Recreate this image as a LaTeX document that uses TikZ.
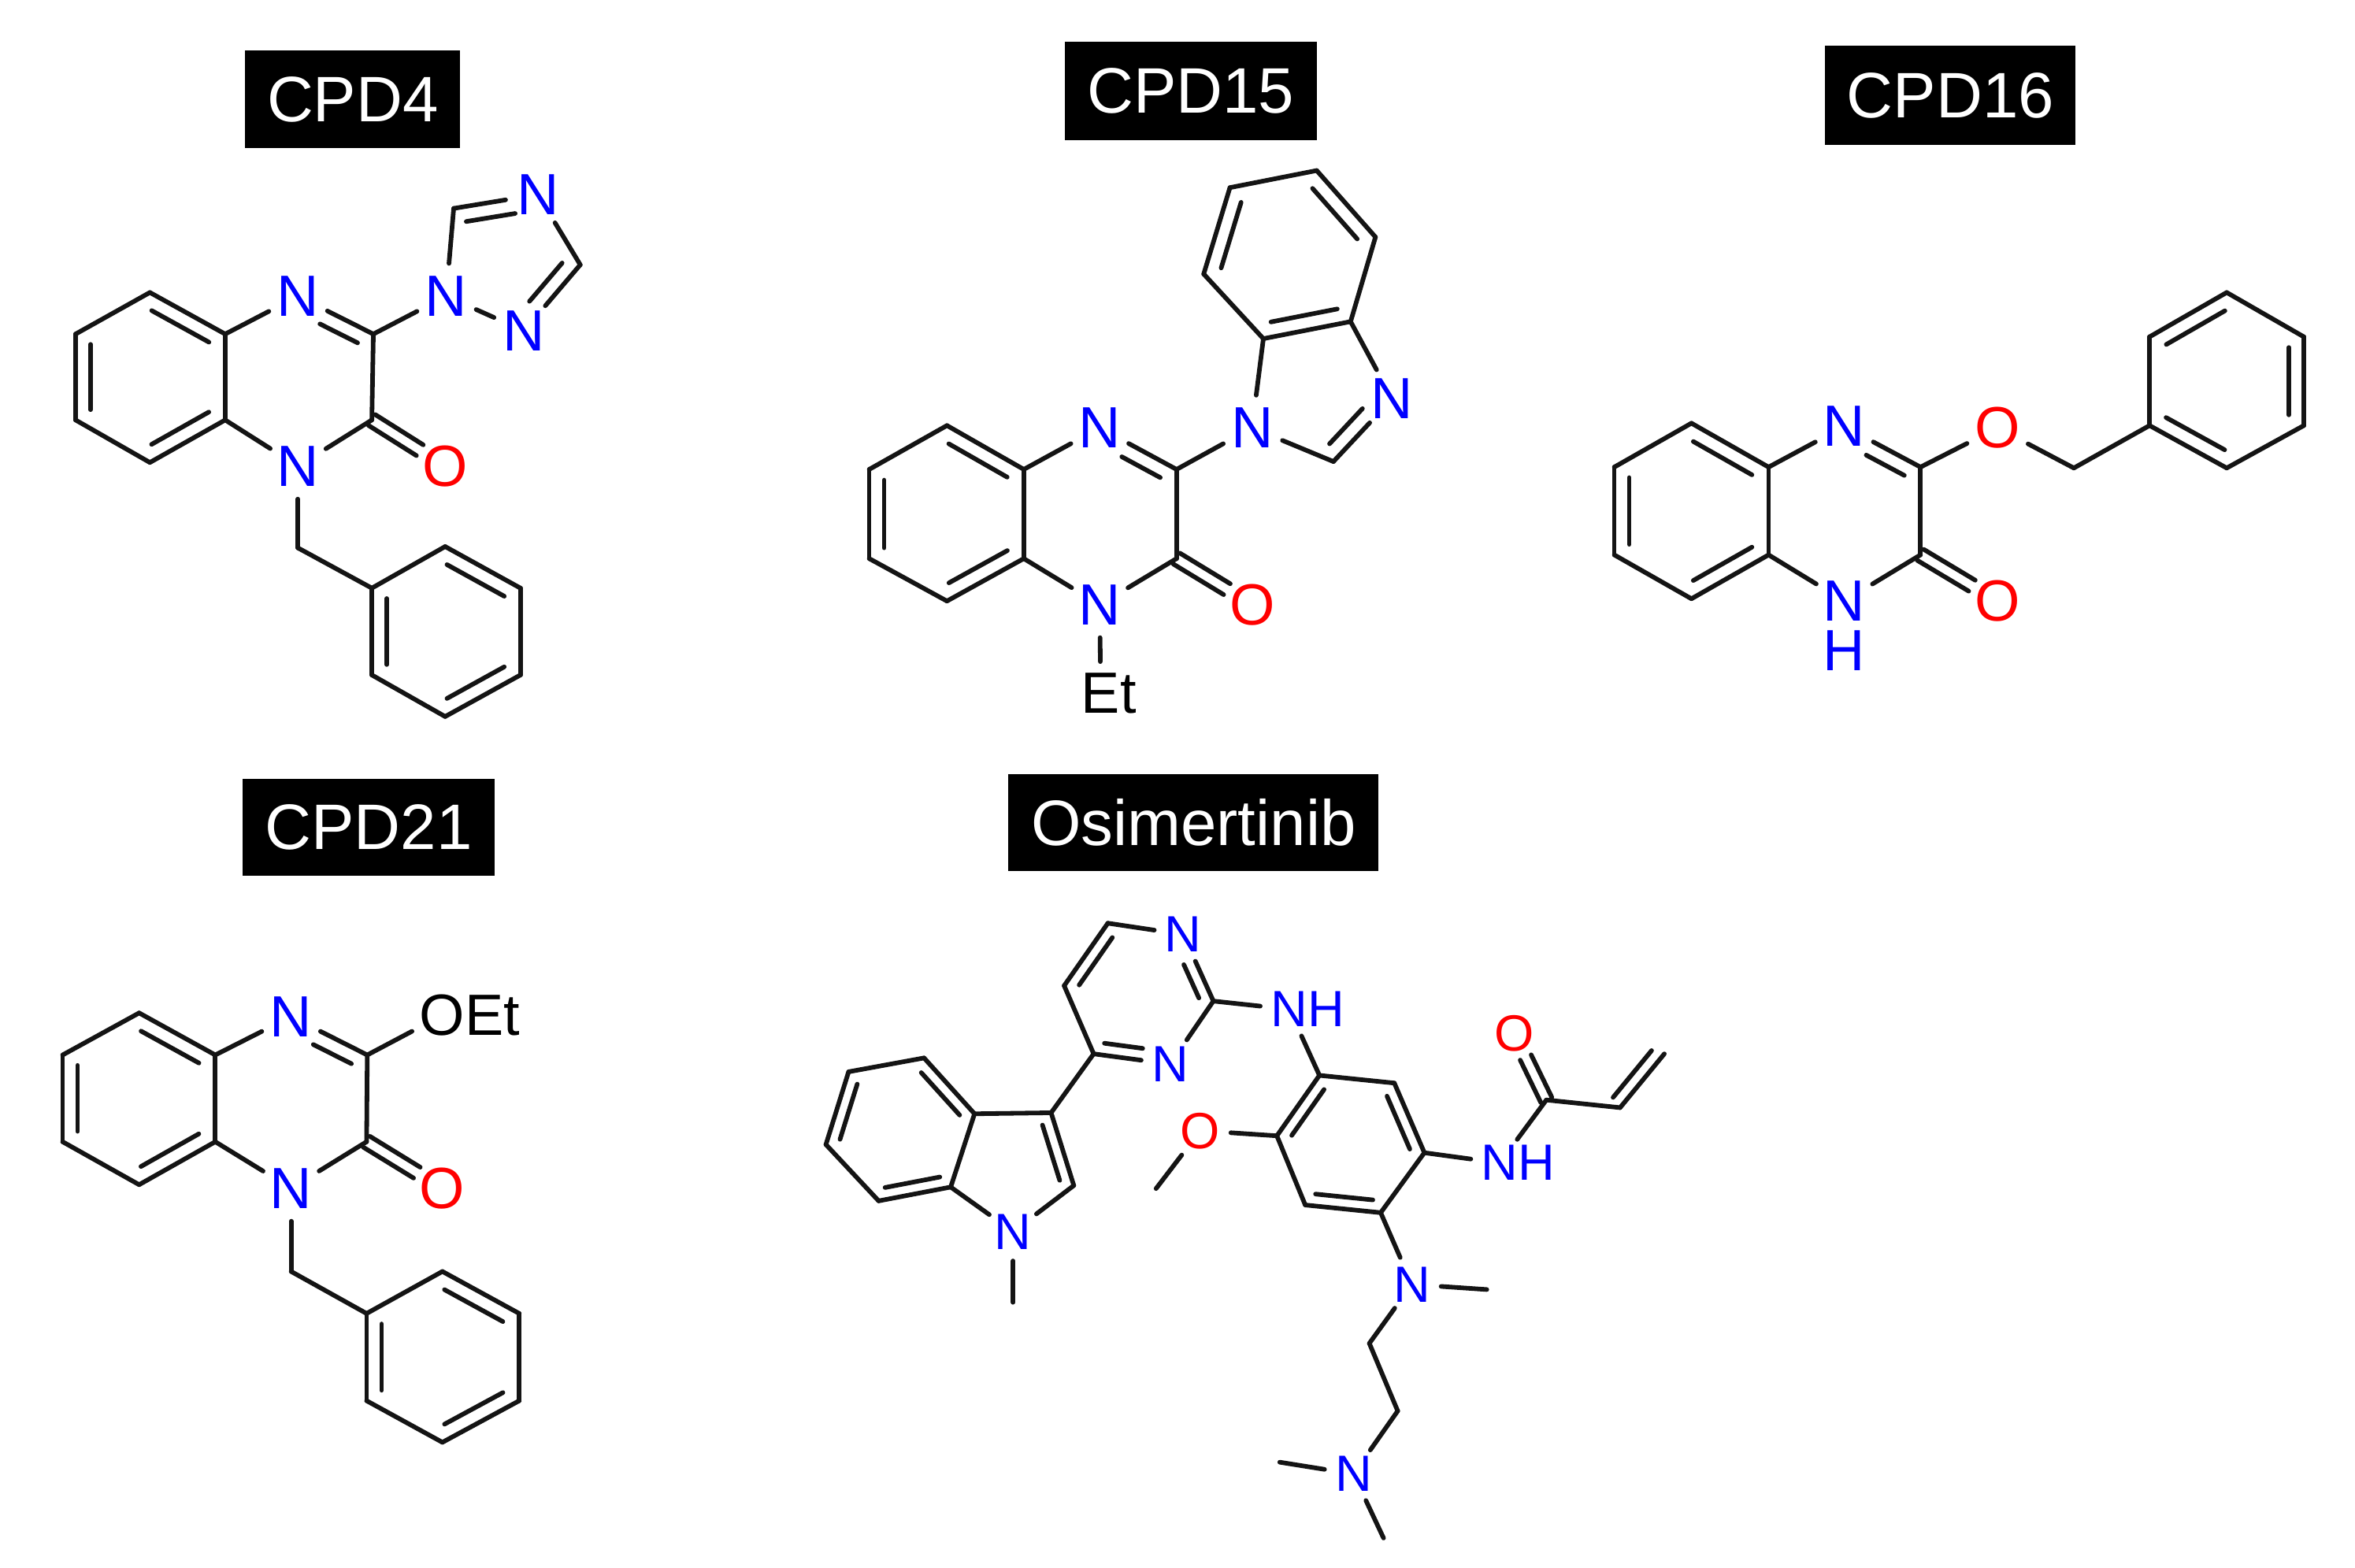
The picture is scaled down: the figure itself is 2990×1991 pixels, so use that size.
\documentclass[tikz,border=0pt]{standalone}
\usepackage{fontspec}
\setmainfont{Liberation Sans}
\usetikzlibrary{calc}
\definecolor{hetN}{RGB}{0,0,255}
\definecolor{hetO}{RGB}{255,0,0}
\definecolor{bondcol}{RGB}{20,20,20}
\tikzset{
  bond/.style={draw=bondcol,line width=0.058cm,line cap=round,line join=round},
  tag/.style={fill=black,text=white,inner sep=0pt,outer sep=0pt,font=\fontsize{23.2}{26}\selectfont},
  atomN/.style={circle,inner sep=1pt,outer sep=0pt,text=hetN,font=\atomsz},
  atomO/.style={circle,inner sep=1pt,outer sep=0pt,text=hetO,font=\atomsz},
  atomK/.style={circle,inner sep=1pt,outer sep=0pt,text=black,font=\atomsz}
}
\newcommand\atomsz{\fontsize{21}{22}\selectfont}
\newcommand\bondoff{-5.4pt}
% inner line of a double bond: a, b, trim at a, trim at b, signed offset
\newcommand\inbond[5]{\draw[bond] ($(#1)!#3!(#2)!#5!90:(#2)$) -- ($(#2)!#4!(#1)!#5!-90:(#1)$);}
% ring double bond, a to b clockwise in the picture
\newcommand\ringd[2]{\draw[bond] (#1) -- (#2); \inbond{#1}{#2}{.12}{.12}{\bondoff}}
% ring double bond starting at a labelled atom
\newcommand\ringa[2]{\draw[bond] (#1) -- (#2); \inbond{#1}{#2}{.38}{.12}{\bondoff}}
% ring double bond ending at a labelled atom
\newcommand\ringb[2]{\draw[bond] (#1) -- (#2); \inbond{#1}{#2}{.12}{.3}{\bondoff}}
% C=O: two lines either side of the axis
\newcommand\cdo[4]{\draw[bond,shorten >=#4] ($(#1)!#3!90:(#2)$) -- ($(#2)!#3!-90:(#1)$);
  \draw[bond,shorten >=#4] ($(#1)!#3!-90:(#2)$) -- ($(#2)!#3!90:(#1)$);}
% shared quinoxalinone skeleton
\newcommand\quinox{%
  \ringd{a1}{a2} \ringd{a3}{a4} \ringd{a5}{a6}
  \foreach \p/\q in {a2/a3,a4/a5,a6/a1,a2/n1,c2/c3,c3/n4,n4/a3} \draw[bond] (\p) -- (\q);
  \ringa{n1}{c2}
  \cdo{c3}{o1}{2.3pt}{.38cm}}
\begin{document}
\begin{tikzpicture}[x=0.01cm,y=-0.01cm]
\useasboundingbox (0,0) rectangle (2990,1991);

% ---------- CPD4 ----------
\begin{scope}[xshift=0.5cm,yshift=-0.3cm,x=0.01cm/1.568,y=-0.01cm/1.704,name prefix=A-]
  \node[tag,minimum width=2.73cm,minimum height=1.244cm] (title) at (624,164) {CPD4};
  \foreach \n/\x/\y in {a1/220/582,a2/370/672,a3/370/858,a4/220/950,a5/72/858,a6/72/672,
    c2/665/672,c3/662/858,t2/825/400,t4/1077/522,ch/515/1135,
    p0/662/1222,p1/808/1132,p2/958/1222,p3/958/1410,p4/808/1500,p5/662/1410}
    \coordinate (\n) at (\x,\y);
  \node[atomN] (n1) at (515,590) {N};
  \node[atomN] (n4) at (515,958) {N};
  \node[atomO] (o1) at (808,958) {O};
  \node[atomN] (t1) at (810,590) {N};
  \node[atomN] (t3) at (993,370) {N};
  \node[atomN] (t5) at (965,665) {N};
  \quinox
  \foreach \p/\q in {c2/t1,t1/t2,t3/t4,t5/t1,n4/ch,ch/p0,p0/p1,p2/p3,p4/p5} \draw[bond] (\p) -- (\q);
  \ringb{t2}{t3} \ringb{t4}{t5}
  \ringd{p1}{p2} \ringd{p3}{p4} \ringd{p5}{p0}
\end{scope}

% ---------- CPD15 ----------
\begin{scope}[xshift=10.8cm,yshift=-0.3cm,x=0.01cm/1.742,y=-0.01cm/1.704,name prefix=B-]
  \node[tag,minimum width=3.2cm,minimum height=1.244cm] (title) at (751,146) {CPD15};
  \foreach \n/\x/\y in {a1/212/870,a2/382/965,a3/382/1158,a4/212/1250,a5/40/1158,a6/40/965,
    c2/720/965,c3/720/1158,im2/1067/948,i3a/912/682,i7a/1105/645,
    h1/780/542,h2/838/355,h3/1030/318,h4/1160/462}
    \coordinate (\n) at (\x,\y);
  \node[atomN] (n1) at (550,875) {N};
  \node[atomN] (n4) at (550,1258) {N};
  \node[atomO] (o1) at (888,1258) {O};
  \node[atomN] (im1) at (887,875) {N};
  \node[atomN] (im3) at (1197,812) {N};
  \node[atomK] (et) at (552,1450) {E\rlap{t}};
  \quinox
  \foreach \p/\q in {c2/im1,im1/i3a,i7a/im3,im2/im1,i3a/h1,h2/h3,h4/i7a,n4/et} \draw[bond] (\p) -- (\q);
  \draw[bond] (im3) -- (im2); \inbond{im3}{im2}{.32}{.12}{\bondoff}
  \ringd{h1}{h2} \ringd{h3}{h4} \ringd{i7a}{i3a}
\end{scope}

% ---------- CPD16 ----------
\begin{scope}[xshift=20.3cm,yshift=-0.3cm,x=0.01cm/1.633,y=-0.01cm/1.704,name prefix=C-]
  \node[tag,minimum width=3.18cm,minimum height=1.256cm] (title) at (727,155) {CPD16};
  \foreach \n/\x/\y in {a1/190/865,a2/350/960,a3/350/1150,a4/190/1245,a5/30/1150,a6/30/960,
    c2/665/960,c3/665/1150,ch/983/962,
    p0/1140/870,p1/1140/678,p2/1300/582,p3/1460/678,p4/1460/870,p5/1300/962}
    \coordinate (\n) at (\x,\y);
  \node[atomN] (n1) at (507,872) {N};
  \node[atomN] (n4) at (507,1250) {N\smash{\llap{\raisebox{-18pt}{H}}}};
  \node[atomO] (o1) at (825,1250) {O};
  \node[atomO] (o2) at (825,875) {O};
  \quinox
  \foreach \p/\q in {c2/o2,o2/ch,ch/p0,p0/p1,p2/p3,p4/p5} \draw[bond] (\p) -- (\q);
  \ringd{p1}{p2} \ringd{p3}{p4} \ringd{p5}{p0}
\end{scope}

% ---------- CPD21 ----------
\begin{scope}[xshift=0.5cm,yshift=-9.7cm,x=0.01cm/2.306,y=-0.01cm/1.742,name prefix=D-]
  \node[tag,minimum width=3.2cm,minimum height=1.235cm] (title) at (964,139.5) {CPD21};
  \foreach \n/\x/\y in {a1/292/550,a2/515/643,a3/515/835,a4/292/930,a5/68/835,a6/68/643,
    c2/960/643,c3/958/835,ch/737/1122,
    p0/958/1215,p1/1180/1122,p2/1405/1215,p3/1405/1408,p4/1180/1500,p5/958/1408}
    \coordinate (\n) at (\x,\y);
  \node[atomN] (n1) at (737,558) {N};
  \node[atomN] (n4) at (737,938) {N};
  \node[atomO] (o1) at (1180,938) {O};
  \node[atomK] (o2) at (1180,555) {O\rlap{Et}};
  \quinox
  \foreach \p/\q in {c2/o2,n4/ch,ch/p0,p0/p1,p2/p3,p4/p5} \draw[bond] (\p) -- (\q);
  \ringd{p1}{p2} \ringd{p3}{p4} \ringd{p5}{p0}
\end{scope}

% ---------- Osimertinib ----------
\begin{scope}[xshift=10.3cm,yshift=-9.7cm,x=0.01cm/1.388,y=-0.01cm/1.536,name prefix=E-]
  \renewcommand\atomsz{\fontsize{18.4}{20}\selectfont}
  \renewcommand\bondoff{-4.3pt}
  \node[tag,minimum width=4.7cm,minimum height=1.224cm] (title) at (673,114) {Osimertinib};
  \foreach \n/\x/\y in {i1/65/600,i2/198/573,i3/287/682,i4/245/825,i5/118/852,i6/25/742,
    c3/422/680,c2/462/822,me1/355/1050,
    y4/497/565,y2/708/462,y6/522/310,y5/445/432,
    b1/895/607,b2/1027/622,b3/1080/758,b4/1003/875,b5/870/860,b6/820/725,
    me2/607/828,co/1295/655,v1/1425/670,v2/1503/565,
    me3/1190/1025,e1/983/1130,e2/1033/1262,me4/825/1362,me5/1008/1510}
    \coordinate (\n) at (\x,\y);
  \node[atomN] (nin) at (355,912) {N};
  \node[atomN] (y3) at (632,585) {N};
  \node[atomN] (y1) at (655,332) {N};
  \node[atomN] (nh1) at (842,478) {N\rlap{H}};
  \node[atomN] (nh2) at (1213,778) {N\rlap{H}};
  \node[atomO] (om) at (685,715) {O};
  \node[atomO] (oc) at (1238,525) {O};
  \node[atomN] (n5) at (1058,1015) {N};
  \node[atomN] (n6) at (955,1385) {N};
  \ringd{i6}{i1} \ringd{i2}{i3} \ringd{i4}{i5}
  \ringd{c3}{c2}
  \ringa{y3}{y4} \ringa{y1}{y2} \ringd{y5}{y6}
  \ringd{b6}{b1} \ringd{b2}{b3} \ringd{b4}{b5}
  \foreach \p/\q in {i1/i2,i3/i4,i5/i6,i3/c3,i4/nin,c2/nin,nin/me1,c3/y4,y4/y5,y6/y1,y2/y3,
    y2/nh1,nh1/b1,b1/b2,b3/b4,b5/b6,b6/om,om/me2,b3/nh2,nh2/co,co/v1,b4/n5,n5/me3,n5/e1,e1/e2,e2/n6,n6/me4,n6/me5}
    \draw[bond] (\p) -- (\q);
  \cdo{co}{oc}{2.2pt}{.34cm}
  \draw[bond] (v1) -- (v2); \inbond{v1}{v2}{.05}{.08}{4.3pt}
\end{scope}
\end{tikzpicture}
\end{document}
